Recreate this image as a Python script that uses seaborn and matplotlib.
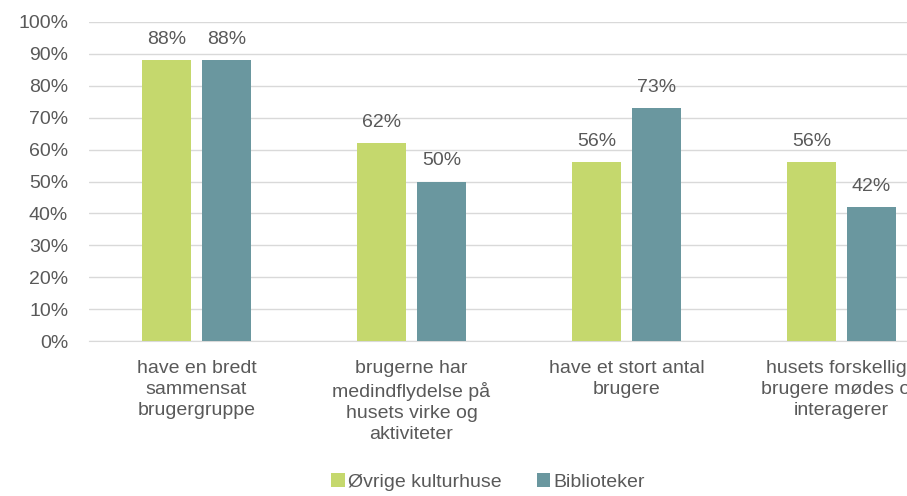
import pandas as pd
import matplotlib.pyplot as plt
import seaborn as sns

# data
categories = ["have en bredt\nsammensat\nbrugergruppe",
              "brugerne har\nmedindflydelse på\nhusets virke og\naktiviteter",
              "have et stort antal\nbrugere",
              "husets forskellige\nbrugere mødes og\ninteragerer"]
series = ["Øvrige kulturhuse", "Biblioteker"]
ovrige = [0.88, 0.62, 0.56, 0.56]
biblioteker = [0.88, 0.50, 0.73, 0.42]
yticks = [i / 10 for i in range(11)]

df = pd.DataFrame({
    "kategori": categories * 2,
    "gruppe": [series[0]] * 4 + [series[1]] * 4,
    "andel": ovrige + biblioteker,
})

sns.set_style("white")
plt.rcParams["font.family"] = ["Liberation Sans", "DejaVu Sans"]
grey = "#595959"
colors = ["#C5D86D", "#6A979F"]

fig = plt.figure(figsize=(9.07, 4.96), dpi=100)
ax = fig.add_axes([89 / 907, 155 / 496, 860 / 907, 319 / 496])

sns.barplot(data=df, x="kategori", y="andel", hue="gruppe", palette=colors,
            saturation=1, width=0.558, gap=0.18, linewidth=0, ax=ax, zorder=3)

for cont in ax.containers:
    ax.bar_label(cont, labels=[f"{v*100:.0f}%" for v in cont.datavalues],
                 padding=9, fontsize=14, color=grey)

ax.set_ylim(0, 1)
ax.set_xlim(-0.5, 3.5)
ax.set_yticks(yticks)
ax.set_yticklabels([f"{int(round(t*100))}%" for t in yticks])
ax.yaxis.grid(True, color="#D9D9D9", linewidth=1, zorder=0)
ax.set_axisbelow(True)
for s in ["top", "right", "left"]:
    ax.spines[s].set_visible(False)
ax.spines["bottom"].set_color("#D9D9D9")
ax.tick_params(axis="both", length=0, labelsize=14, colors=grey)
ax.tick_params(axis="y", pad=15)
ax.tick_params(axis="x", pad=14)
for lbl in ax.get_xticklabels():
    lbl.set_linespacing(1.3)
ax.set_xlabel("")
ax.set_ylabel("")

ax.legend(loc="center", bbox_to_anchor=(488 / 907, 14 / 496),
          bbox_transform=fig.transFigure, ncol=2, frameon=False,
          fontsize=14, labelcolor=grey, handlelength=0.7, handleheight=0.7,
          handletextpad=0.15, columnspacing=1.8)

fig.savefig("out.png", dpi=100)
